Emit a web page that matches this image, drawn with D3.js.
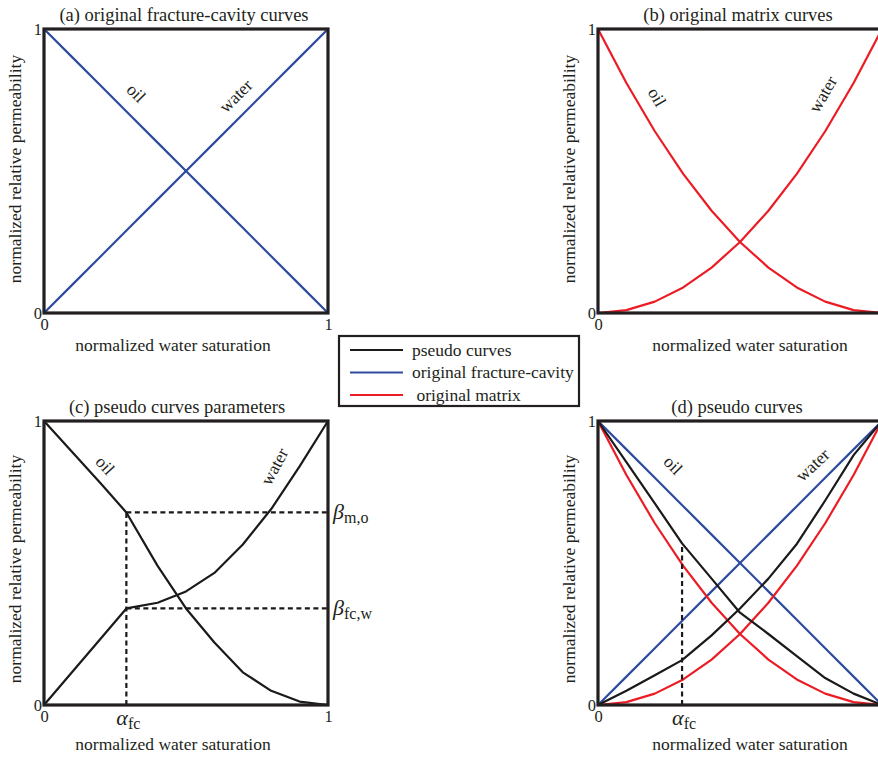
<!DOCTYPE html>
<html>
<head>
<meta charset="utf-8">
<script src="https://cdn.jsdelivr.net/npm/d3@7"></script>
<style>
  body { margin: 0; background: #fff; }
  svg text { font-family: "Liberation Serif", "Times New Roman", serif; fill: #231f20; }
</style>
</head>
<body>
<div id="chart"></div>
<script>
// normalized water saturation grid
const satGrid = [0, 0.1, 0.2, 0.3, 0.4, 0.5, 0.6, 0.7, 0.8, 0.9, 1];

// original fracture-cavity curves
const fcOil = [1, 0.9, 0.8, 0.7, 0.6, 0.5, 0.4, 0.3, 0.2, 0.1, 0];
const fcWater = [0, 0.1, 0.2, 0.3, 0.4, 0.5, 0.6, 0.7, 0.8, 0.9, 1];

// original matrix curves
const mOil = [1, 0.81, 0.64, 0.49, 0.36, 0.25, 0.16, 0.09, 0.04, 0.01, 0];
const mWater = [0, 0.01, 0.04, 0.09, 0.16, 0.25, 0.36, 0.49, 0.64, 0.81, 1];

// (c) pseudo curve parameters
const alphaC = 0.29;
const betaMO = 0.678;
const betaFCW = 0.34;
const satC = [0, 0.1, 0.2, 0.29, 0.4, 0.5, 0.6, 0.7, 0.8, 0.9, 1];
const pseudoCOil = [1, 0.89, 0.78, 0.678, 0.49, 0.34, 0.22, 0.115, 0.05, 0.012, 0];
const pseudoCWater = [0, 0.117, 0.234, 0.34, 0.36, 0.40, 0.465, 0.565, 0.69, 0.84, 1];

// (d) pseudo curves
const alphaD = 0.296;
const satD = [0, 0.1, 0.2, 0.296, 0.4, 0.5, 0.6, 0.7, 0.8, 0.9, 1];
const pseudoDOil = [1, 0.855, 0.71, 0.569, 0.445, 0.325, 0.25, 0.172, 0.095, 0.04, 0];
const pseudoDWater = [0, 0.05, 0.105, 0.158, 0.245, 0.34, 0.445, 0.567, 0.72, 0.88, 1];

const legendItems = [
    { label: "pseudo curves", color: "#1a1a1a" },
    { label: "original fracture-cavity", color: "#2e4b9e" },
    { label: " original matrix", color: "#ec1c24" }
];

const BLACK = "#1a1a1a", BLUE = "#2e4b9e", RED = "#ec1c24";
const width = 878, height = 758, size = 284;
const FS = 17.5;

const svg = d3.select("#chart").append("svg")
    .attr("width", width)
    .attr("height", height);

function pts(xs, ys) { return xs.map((x, i) => [x, ys[i]]); }

function panel(o) {
    const { x0, y0, title } = o;
    const x = d3.scaleLinear().domain([0, 1]).range([x0, x0 + size]);
    const y = d3.scaleLinear().domain([0, 1]).range([y0 + size, y0]);
    const g = svg.append("g");

    g.append("text")
        .attr("x", o.titleX).attr("y", y0 - 8)
        .attr("text-anchor", "middle").attr("font-size", 18.5)
        .text(title);

    // axes (labels only, frame drawn after curves)
    const ax = g.append("g")
        .attr("transform", `translate(0,${y0 + size})`)
        .call(d3.axisBottom(x).tickValues(o.xTickVals).tickSize(0).tickPadding(5).tickFormat(d3.format("d")));
    const ay = g.append("g")
        .attr("transform", `translate(${x0},0)`)
        .call(d3.axisLeft(y).tickValues([0, 1]).tickSize(0).tickPadding(2).tickFormat(d3.format("d")));
    [ax, ay].forEach(a => {
        a.select(".domain").remove();
        a.selectAll("text").attr("font-size", 16.5)
            .style("font-family", '"Liberation Serif", serif').attr("fill", "#231f20");
    });

    g.append("text")
        .attr("x", o.xLabelX).attr("y", y0 + size + o.xLabelDy)
        .attr("text-anchor", "middle").attr("font-size", FS)
        .text("normalized water saturation");

    g.append("text")
        .attr("transform", `translate(${x0 - 23},${y0 + o.yLabelDy}) rotate(-90)`)
        .attr("text-anchor", "middle").attr("font-size", FS)
        .text("normalized relative permeability");

    const curves = g.append("g");
    const frame = () => g.append("rect")
        .attr("x", x0).attr("y", y0).attr("width", size).attr("height", size)
        .attr("fill", "none").attr("stroke", "#231f20").attr("stroke-width", 3.2);

    return { x, y, g, curves, frame };
}

function curve(p, data, color) {
    const line = d3.line().x(d => p.x(d[0])).y(d => p.y(d[1]));
    p.curves.append("path")
        .attr("d", line(data))
        .attr("fill", "none")
        .attr("stroke", color)
        .attr("stroke-width", 2.2)
        .attr("stroke-linejoin", "round");
}

function dashed(p, a, b) {
    p.curves.append("line")
        .attr("x1", p.x(a[0])).attr("y1", p.y(a[1]))
        .attr("x2", p.x(b[0])).attr("y2", p.y(b[1]))
        .attr("stroke", BLACK).attr("stroke-width", 2.2)
        .attr("stroke-dasharray", "5,3.5");
}

function tag(p, txt, sx, sy, angle) {
    p.g.append("text")
        .attr("transform", `translate(${p.x(sx)},${p.y(sy)}) rotate(${angle})`)
        .attr("text-anchor", "middle").attr("font-size", FS)
        .text(txt);
}

function alphaLabel(p, a) {
    const t = p.g.append("text")
        .attr("x", p.x(a) - 10).attr("y", p.y(0) + 20)
        .attr("font-size", 22);
    t.append("tspan").attr("font-style", "italic").text("α");
    t.append("tspan").attr("font-size", 16).attr("dy", 4).text("fc");
}

// (a)
const pa = panel({ x0: 44, y0: 29, title: "(a) original fracture-cavity curves", titleX: 184,
    xTickVals: [0, 1], xLabelX: 173, xLabelDy: 38, yLabelDy: 140 });
curve(pa, pts(satGrid, fcOil), BLUE);
curve(pa, pts(satGrid, fcWater), BLUE);
pa.frame();
tag(pa, "oil", 0.31, 0.76, 45);
tag(pa, "water", 0.69, 0.75, -45);

// (b)
const pb = panel({ x0: 598, y0: 29, title: "(b) original matrix curves", titleX: 738,
    xTickVals: [0], xLabelX: 750, xLabelDy: 38, yLabelDy: 140 });
curve(pb, pts(satGrid, mOil), RED);
curve(pb, pts(satGrid, mWater), RED);
pb.frame();
tag(pb, "oil", 0.19, 0.75, 60);
tag(pb, "water", 0.81, 0.76, -60);

// (c)
const pc = panel({ x0: 44, y0: 421, title: "(c) pseudo curves parameters", titleX: 177,
    xTickVals: [0, 1], xLabelX: 173, xLabelDy: 45, yLabelDy: 148 });
dashed(pc, [alphaC, 0], [alphaC, betaMO]);
dashed(pc, [alphaC, betaMO], [1, betaMO]);
dashed(pc, [alphaC, betaFCW], [1, betaFCW]);
curve(pc, pts(satC, pseudoCOil), BLACK);
curve(pc, pts(satC, pseudoCWater), BLACK);
pc.frame();
tag(pc, "oil", 0.2, 0.83, 48);
tag(pc, "water", 0.83, 0.83, -62);
alphaLabel(pc, alphaC);
[[betaMO, "m,o"], [betaFCW, "fc,w"]].forEach(([b, sub]) => {
    const t = pc.g.append("text")
        .attr("x", pc.x(1) + 5).attr("y", pc.y(b) + 7)
        .attr("font-size", 22);
    t.append("tspan").attr("font-style", "italic").text("β");
    t.append("tspan").attr("font-size", 16).attr("dy", 4).text(sub);
});

// (d)
const pd = panel({ x0: 598, y0: 421, title: "(d) pseudo curves", titleX: 737,
    xTickVals: [0], xLabelX: 750, xLabelDy: 45, yLabelDy: 148 });
curve(pd, pts(satGrid, fcOil), BLUE);
curve(pd, pts(satGrid, fcWater), BLUE);
curve(pd, pts(satGrid, mOil), RED);
curve(pd, pts(satGrid, mWater), RED);
curve(pd, pts(satD, pseudoDOil), BLACK);
curve(pd, pts(satD, pseudoDWater), BLACK);
dashed(pd, [alphaD, 0], [alphaD, pseudoDOil[satD.indexOf(alphaD)]]);
pd.frame();
tag(pd, "oil", 0.25, 0.83, 45);
tag(pd, "water", 0.77, 0.83, -43);
alphaLabel(pd, alphaD);

// legend
const lg = svg.append("g").attr("transform", "translate(339,336)");
lg.append("rect")
    .attr("width", 240).attr("height", 70)
    .attr("fill", "#fff").attr("stroke", "#231f20").attr("stroke-width", 2.2);
const row = lg.selectAll("g.item").data(legendItems).join("g")
    .attr("class", "item")
    .attr("transform", (d, i) => `translate(0,${14 + i * 22.5})`);
row.append("line")
    .attr("x1", 11).attr("x2", 64)
    .attr("stroke", d => d.color).attr("stroke-width", 2.2);
row.append("text")
    .attr("x", 73).attr("y", 5.5)
    .attr("font-size", FS)
    .attr("xml:space", "preserve")
    .style("white-space", "pre")
    .text(d => d.label);
</script>
</body>
</html>
